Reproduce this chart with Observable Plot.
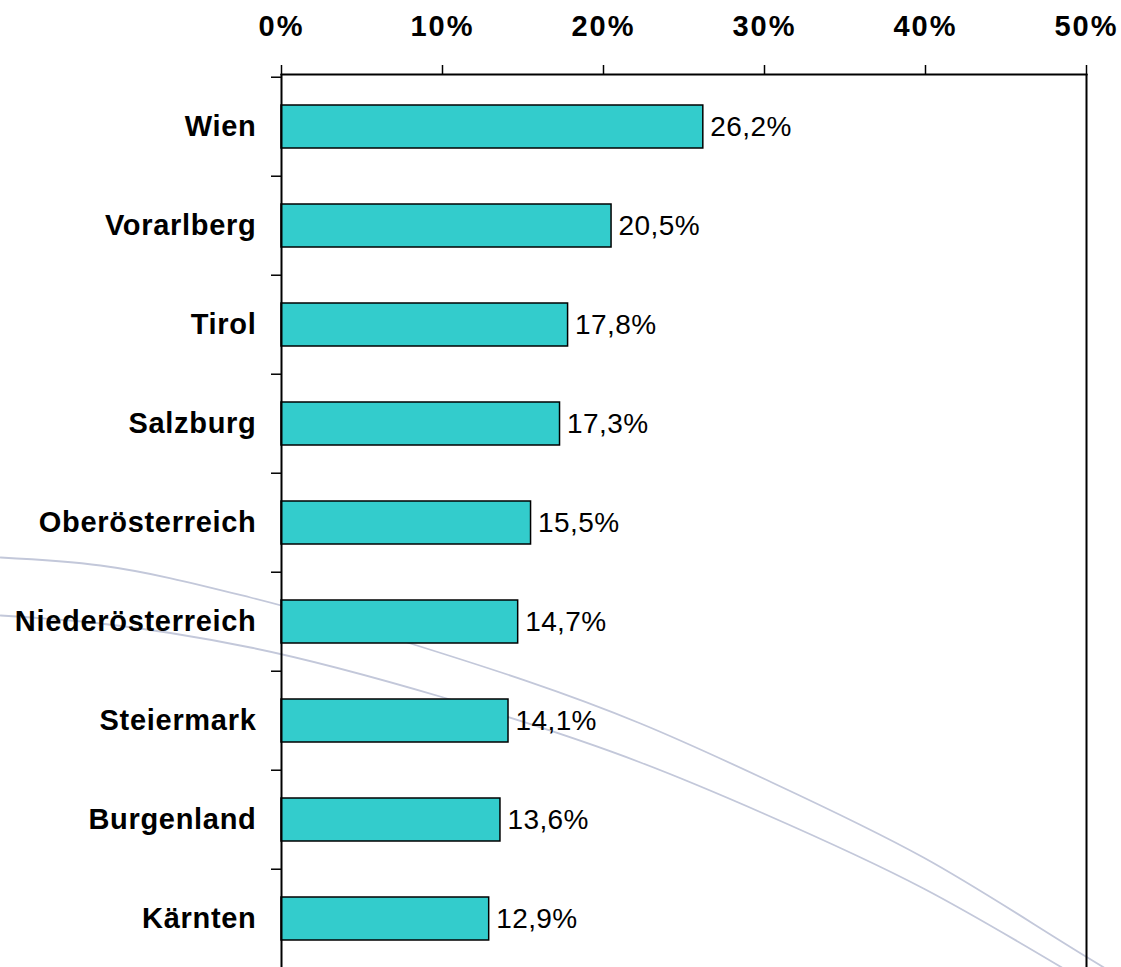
<!DOCTYPE html>
<html>
<head>
<meta charset="utf-8">
<script src="https://cdn.jsdelivr.net/npm/d3@7"></script>
<script src="https://cdn.jsdelivr.net/npm/@observablehq/plot@0.6"></script>
<style>
  html, body { margin: 0; padding: 0; background: #ffffff; overflow: hidden; }
  #wrap { position: relative; width: 1121px; height: 967px; }
  #wrap > div { position: absolute; left: 0; top: 0; }
  [aria-label="x-axis tick label"] text { letter-spacing: 2px; }
  [aria-label="y-axis tick label"] text { letter-spacing: 0.7px; }
  .vals text { letter-spacing: 0.4px; }
</style>
</head>
<body>
<div id="wrap"><div id="bg"></div><div id="chart"></div></div>
<script>
// Data
const regions = ["Wien", "Vorarlberg", "Tirol", "Salzburg", "Oberösterreich", "Niederösterreich", "Steiermark", "Burgenland", "Kärnten"];
const shares = [26.2, 20.5, 17.8, 17.3, 15.5, 14.7, 14.1, 13.6, 12.9];
const xTicks = [0, 10, 20, 30, 40, 50];

// Decorative background arcs (pixel space)
const arcUpperX = [0, 100, 250, 410, 640, 763, 923, 1087, 1105];
const arcUpperY = [557, 565, 597, 643, 723, 778, 857, 957, 968];
const arcLowerX = [0, 100, 250, 443, 640, 763, 923, 1063];
const arcLowerY = [615, 623, 647, 697, 762, 813, 888, 968];

const rows = regions.map((r, i) => ({region: r, value: shares[i]}));
const arcs = [
  ...arcUpperX.map((x, i) => ({arc: "a", x, y: arcUpperY[i]})),
  ...arcLowerX.map((x, i) => ({arc: "b", x, y: arcLowerY[i]}))
];

const W = 1121, H = 967;
const font = "'Liberation Sans', Arial, sans-serif";

const bg = Plot.plot({
  width: W, height: H,
  margin: 0,
  style: {background: "transparent"},
  x: {domain: [0, W], range: [0, W], axis: null},
  y: {domain: [0, H], range: [0, H], axis: null},
  marks: [
    Plot.line(arcs, {x: "x", y: "y", z: "arc", stroke: "#c3c8da", strokeWidth: 1.8, curve: "monotone-x"})
  ]
});
document.getElementById("bg").appendChild(bg);

const yTop = 74, yBottom = 970;
const step = (yBottom - yTop) / regions.length;
const fmt = v => v.toFixed(1).replace(".", ",") + "%";

const chart = Plot.plot({
  width: W, height: H,
  marginTop: yTop, marginBottom: 0, marginLeft: 281, marginRight: 35,
  style: {background: "transparent", fontFamily: font, color: "#000"},
  x: {domain: [0, 50]},
  y: {domain: regions, range: [yTop, yBottom], paddingInner: 0.57, paddingOuter: 0.285},
  marks: [
    Plot.barX(rows, {y: "region", x: "value", fill: "#33CCCC", stroke: "#000", strokeWidth: 1.5}),
    Plot.text(rows, {y: "region", x: "value", text: d => fmt(d.value), textAnchor: "start", dx: 7, fontSize: 28, fill: "#000", className: "vals"}),
    Plot.ruleX([0, 50], {stroke: "#000", strokeWidth: 2}),
    Plot.frame({anchor: "top", stroke: "#000", strokeWidth: 2}),
    Plot.axisX(xTicks, {anchor: "top", tickSize: 10, tickPadding: 29, tickFormat: d => d + "%", fontSize: 29, fontWeight: "bold", label: null, strokeWidth: 1.5}),
    Plot.axisY({anchor: "left", tickSize: 10, tickFormat: () => "", dy: -step / 2, label: null, strokeWidth: 1.5}),
    Plot.axisY({anchor: "left", tickSize: 0, tickPadding: 25, fontSize: 29, fontWeight: "bold", label: null})
  ]
});
document.getElementById("chart").appendChild(chart);
</script>
</body>
</html>
